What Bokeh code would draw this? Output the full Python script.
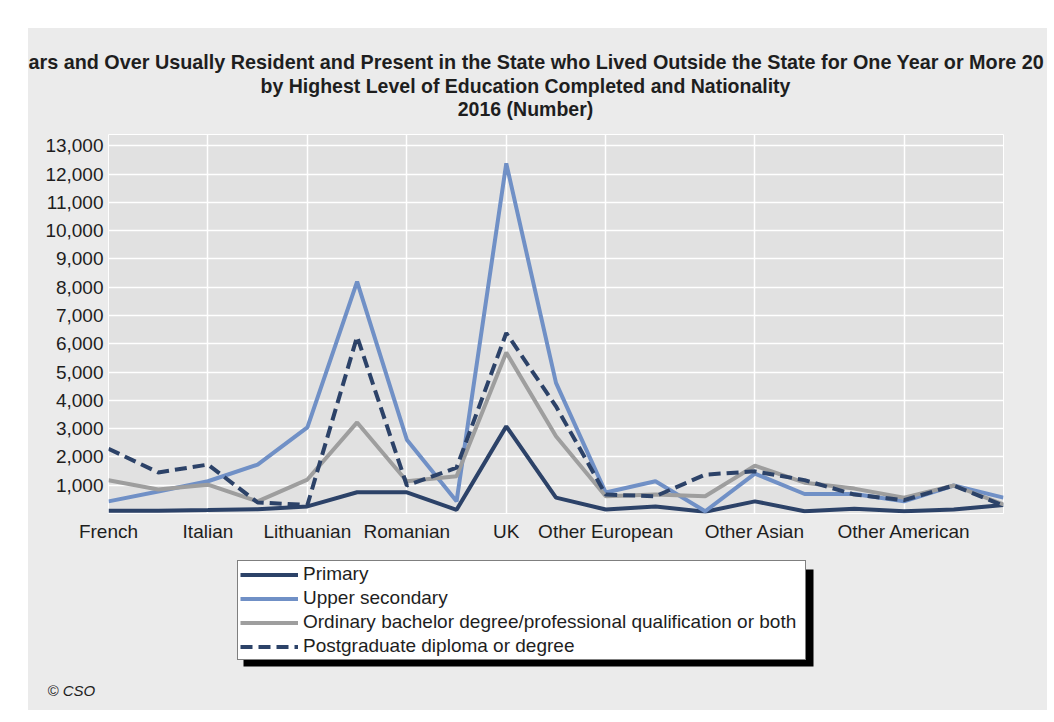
import numpy as np
from bokeh.plotting import figure
from bokeh.models import (FixedTicker, NumeralTickFormatter, Label, Legend, LegendItem,
                          BoxAnnotation, Spacer, Range1d)
from bokeh.layouts import row, column
from bokeh.embed import file_html
from bokeh.resources import INLINE

# ---------------- data ----------------
categories = ["French", "German", "Italian", "Latvian", "Lithuanian", "Polish", "Romanian",
              "Spanish", "UK", "Other EU28", "Other European", "Chinese", "Indian",
              "Other Asian", "American (US)", "Brazilian", "Other American", "African",
              "Other nationalities"]
shown_labels = ["French", "Italian", "Lithuanian", "Romanian", "UK", "Other European",
                "Other Asian", "Other American"]
primary = [100, 100, 120, 150, 250, 750, 750, 130, 3080, 560, 140, 250, 60, 430, 80, 170, 80, 140, 300]
upper_secondary = [430, 780, 1140, 1730, 3045, 8200, 2610, 430, 12380, 4620, 740, 1140, 80, 1410, 690, 690, 430, 990, 560]
bachelor = [1175, 850, 1020, 430, 1200, 3220, 1140, 1320, 5690, 2730, 610, 670, 610, 1690, 1090, 880, 560, 990, 320]
postgrad = [2290, 1450, 1730, 390, 300, 6255, 990, 1620, 6380, 3790, 670, 610, 1375, 1490, 1180, 670, 470, 990, 280]
y_ticks = [1000, 2000, 3000, 4000, 5000, 6000, 7000, 8000, 9000, 10000, 11000, 12000, 13000]
series_names = ["Primary", "Upper secondary",
                "Ordinary bachelor degree/professional qualification or both",
                "Postgraduate diploma or degree"]
title_lines = ["ars and Over Usually Resident and Present in the State who Lived Outside the State for One Year or More 20",
               "by Highest Level of Education Completed and Nationality",
               "2016 (Number)"]
credit = "\u00a9 CSO"

# ---------------- geometry (page px) ----------------
X0, Y0 = 28, 28            # top-left of grey panel
W = 1019                   # panel width
TOP_H = 106                # title band height
MAIN_H = 416               # plot band height (frame 134..513 + axis labels)
BOT_H = 160                # legend band height
FR_L, FR_R, FR_T, FR_B = 108, 1003, 134, 513
Y_MAX = 13400
N = len(categories)

FONT = "Liberation Sans"
TXT = "#1e1e1e"
PANEL = "#ebebeb"
NAVY = "#2c4268"
BLUE = "#7090c6"
GREY = "#9e9e9e"

common = dict(output_backend="svg", toolbar_location=None, title=None,
              border_fill_color=PANEL, background_fill_color=PANEL)


def no_align(fig):
    if "frame_align" in fig.properties():
        fig.frame_align = False


# ---------- title band ----------
pt = figure(width=W, height=TOP_H, x_range=Range1d(0, W), y_range=Range1d(TOP_H, 0),
            min_border=0, outline_line_color=None, **common)
pt.axis.visible = False
pt.grid.visible = False
no_align(pt)
for txt, xx, yy, al, fs in [(title_lines[0], 0, 61 - Y0, "left", "19.8px"),
                            (title_lines[1], 525 - X0, 85 - Y0, "center", "19.5px"),
                            (title_lines[2], 525 - X0, 108 - Y0, "center", "19.5px")]:
    pt.add_layout(Label(x=xx, y=yy, text=txt, text_font=FONT, text_font_style="bold",
                        text_font_size=fs, text_color=TXT, text_align=al,
                        text_baseline="middle"))

# ---------- main plot ----------
p = figure(width=W, height=MAIN_H, x_range=Range1d(0, N - 1), y_range=Range1d(0, Y_MAX),
           min_border_left=FR_L - X0, min_border_right=X0 + W - FR_R,
           min_border_top=0, min_border_bottom=Y0 + TOP_H + MAIN_H - FR_B,
           outline_line_color="white", outline_line_width=1,
           output_backend="svg", toolbar_location=None, title=None,
           border_fill_color=PANEL, background_fill_color="#e1e1e1")
no_align(p)

xs = list(range(N))
label_idx = [categories.index(c) for c in shown_labels]

p.xaxis.ticker = FixedTicker(ticks=label_idx)
p.xaxis.major_label_overrides = {i: categories[i] for i in label_idx}
p.yaxis.ticker = FixedTicker(ticks=y_ticks)
p.yaxis.formatter = NumeralTickFormatter(format="0,0")
for ax in (p.xaxis, p.yaxis):
    ax.axis_line_color = None
    ax.major_tick_line_color = None
    ax.minor_tick_line_color = None
    ax.major_tick_out = 0
    ax.major_label_text_font = FONT
    ax.major_label_text_font_size = "19px"
    ax.major_label_text_color = TXT
p.yaxis.major_label_standoff = 5
p.xaxis.major_label_standoff = 7

p.xgrid.ticker = FixedTicker(ticks=label_idx)
p.ygrid.ticker = FixedTicker(ticks=y_ticks)
for g in (p.xgrid, p.ygrid):
    g.grid_line_color = "white"
    g.grid_line_width = 1.5

styles = [dict(line_color=NAVY, line_width=4),
          dict(line_color=BLUE, line_width=4),
          dict(line_color=GREY, line_width=4),
          dict(line_color=NAVY, line_width=4, line_dash="12 6")]
for ys, st in zip([primary, upper_secondary, bachelor, postgrad], styles):
    p.line(xs, ys, **st)

# ---------- legend / credit band ----------
pb = figure(width=W, height=BOT_H, x_range=Range1d(0, W), y_range=Range1d(BOT_H, 0),
            min_border=0, outline_line_color=None, **common)
pb.axis.visible = False
pb.grid.visible = False
no_align(pb)
BY0 = Y0 + TOP_H + MAIN_H   # page y of this band's top

pb.add_layout(BoxAnnotation(left=243 - X0, right=813 - X0, top=569 - BY0, bottom=666 - BY0,
                            fill_color="black", fill_alpha=1, line_color=None))
# legend proxies (no visible data of their own)
proxies = [pb.line([np.nan], [np.nan], **st) for st in styles]
legend = Legend(items=[LegendItem(label=n, renderers=[r]) for n, r in zip(series_names, proxies)],
                location=(237 - X0, (Y0 + TOP_H + MAIN_H + BOT_H) - 660),
                orientation="vertical",
                background_fill_color="white", background_fill_alpha=1,
                border_line_color="black", border_line_width=1,
                label_text_font=FONT, label_text_font_size="19px", label_text_color=TXT,
                glyph_width=58, glyph_height=19, label_height=19, label_width=500,
                spacing=2, padding=2, margin=0, label_standoff=5)
pb.add_layout(legend)
pb.add_layout(Label(x=47 - X0, y=690 - BY0, text=credit, text_font=FONT,
                    text_font_style="italic", text_font_size="15px", text_color=TXT,
                    text_align="left", text_baseline="middle"))

panel = column(pt, p, pb, styles={"background-color": PANEL})
layout = row(Spacer(width=X0), column(Spacer(height=Y0), panel))
open("out.html", "w").write(file_html(layout, INLINE))
